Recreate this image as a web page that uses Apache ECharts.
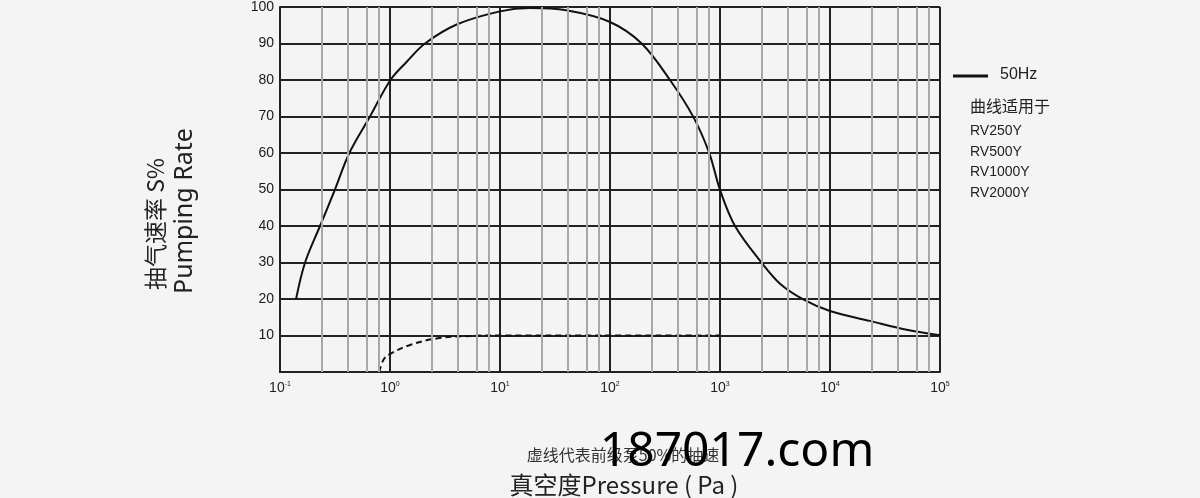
<!DOCTYPE html>
<html>
<head>
<meta charset="utf-8">
<script src="https://cdn.jsdelivr.net/npm/echarts@6/dist/echarts.min.js"></script>
<style>
  html, body { margin: 0; padding: 0; background: #f4f4f4; }
  #main { width: 1200px; height: 498px; }
</style>
</head>
<body>
<div id="main"></div>
<script>
// solid curve, 50Hz : [pressure Pa, pumping rate %]
var pressure = [0.14, 0.169, 0.231, 0.316, 0.427, 0.658, 1.01, 1.42, 2.08, 4.04, 10, 18.7, 40, 100, 194, 351, 572, 800, 1000, 1369, 2394, 3511, 5715, 10000, 23100, 49800, 100000];
var rate = [20, 30, 40, 50, 60, 70, 80, 85, 90, 95.2, 98.8, 99.7, 99.1, 95.9, 90, 80, 69.9, 59.9, 49.9, 40, 29.9, 24.2, 19.9, 16.7, 14, 11.6, 10.1];
// dashed curve : backing pump 50%
var pressureDash = [0.8, 0.87, 1.0, 1.52, 2.66, 4.64, 10, 100, 1000];
var rateDash = [0, 3.3, 4.9, 7.4, 9.2, 9.8, 10, 10, 10];
// minor grid lines inside each decade
var minorFactors = [2.4, 4.1, 6.1, 7.9];
var decades = [-1, 0, 1, 2, 3, 4];
var modelNames = ['RV250Y', 'RV500Y', 'RV1000Y', 'RV2000Y'];

var myChart = echarts.init(document.getElementById('main'));

var minorLines = [];
decades.forEach(function (d) {
    minorFactors.forEach(function (f) {
        minorLines.push({ xAxis: f * Math.pow(10, d) });
    });
});

var modelText = modelNames.map(function (name, i) {
    return {
        type: 'text', left: 970, top: 124 + i * 20.7,
        style: { text: name, font: '14px "Liberation Sans"', fill: '#222' }
    };
});

var option = {
    backgroundColor: '#f4f4f4',
    animation: false,
    grid: { left: 280, right: 260, top: 5, bottom: 126 },
    xAxis: {
        type: 'log',
        logBase: 10,
        min: 0.1,
        max: 100000,
        z: 1,
        axisLine: { show: true, lineStyle: { color: '#222', width: 2 } },
        axisTick: { show: false },
        splitLine: { show: true, lineStyle: { color: '#222', width: 2 } },
        axisLabel: {
            margin: 9,
            formatter: function (v) {
                var e = Math.round(Math.log10(v));
                return '{b|10}{s|' + (e < 0 ? '-' : '') + Math.abs(e) + '}';
            },
            rich: {
                b: { fontSize: 14, fontFamily: 'Liberation Sans', color: '#222' },
                s: { fontSize: 7, fontFamily: 'Liberation Sans', color: '#222', verticalAlign: 'top', padding: [0, 0, 8, 0] }
            }
        }
    },
    yAxis: {
        type: 'value',
        min: 0,
        max: 100,
        interval: 10,
        z: 1,
        axisLine: { show: true, lineStyle: { color: '#222', width: 2 } },
        axisTick: { show: false },
        splitLine: { show: true, lineStyle: { color: '#222', width: 2 } },
        axisLabel: {
            margin: 6,
            fontSize: 14,
            fontFamily: 'Liberation Sans',
            color: '#1a1a1a',
            formatter: function (v) { return v === 0 ? '' : v; }
        }
    },
    series: [
        {
            name: 'minor',
            type: 'line',
            data: [],
            z: 0,
            silent: true,
            markLine: {
                silent: true,
                symbol: 'none',
                label: { show: false },
                lineStyle: { color: '#a8a8a8', width: 2, type: 'solid' },
                data: minorLines
            }
        },
        {
            name: '50Hz',
            type: 'line',
            smooth: 0.35,
            symbol: 'none',
            z: 3,
            lineStyle: { color: '#111', width: 2 },
            data: pressure.map(function (p, i) { return [p, rate[i]]; })
        },
        {
            name: '50%',
            type: 'line',
            smooth: 0.4,
            symbol: 'none',
            z: 3,
            lineStyle: { color: '#111', width: 2, type: [6, 4] },
            data: pressureDash.map(function (p, i) { return [p, rateDash[i]]; })
        }
    ],
    graphic: [
        {
            type: 'text', x: 155, y: 224, rotation: Math.PI / 2,
            style: { text: '抽气速率 S%', font: '23px "Noto Sans CJK SC"', fill: '#222', align: 'center', verticalAlign: 'middle' }
        },
        {
            type: 'text', x: 185, y: 211, rotation: Math.PI / 2,
            style: { text: 'Pumping Rate', font: '25px "Noto Sans"', fill: '#222', align: 'center', verticalAlign: 'middle' }
        },
        { type: 'line', shape: { x1: 953, y1: 76, x2: 988, y2: 76 }, style: { stroke: '#111', lineWidth: 3 } },
        { type: 'text', left: 1000, top: 67, style: { text: '50Hz', font: '16px "Liberation Sans"', fill: '#222' } },
        { type: 'text', left: 970, top: 98, style: { text: '曲线适用于', font: '16px "Noto Sans CJK SC"', fill: '#222' } }
    ].concat(modelText).concat([
        {
            type: 'text', x: 623, y: 455,
            style: { text: '虚线代表前级泵50%的抽速', font: '16px "Noto Sans CJK SC"', fill: '#333', align: 'center', verticalAlign: 'middle' }
        },
        {
            type: 'text', x: 624, y: 485,
            style: { text: '真空度Pressure ( Pa )', font: '24px "Noto Sans CJK SC"', fill: '#222', align: 'center', verticalAlign: 'middle' }
        },
        {
            type: 'text', x: 737, y: 452,
            style: { text: '187017.com', font: '48px "Noto Sans"', fill: '#000', align: 'center', verticalAlign: 'middle' }
        }
    ])
};
myChart.setOption(option);
</script>
</body>
</html>
